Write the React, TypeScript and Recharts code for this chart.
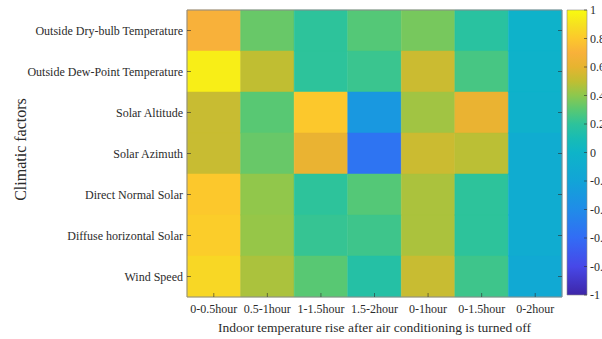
import React from 'react';
import { BarChart, Bar, XAxis, YAxis, Cell, Label } from 'recharts';

const factors = [
  'Outside Dry-bulb Temperature',
  'Outside Dew-Point Temperature',
  'Solar Altitude',
  'Solar Azimuth',
  'Direct Normal Solar',
  'Diffuse horizontal Solar',
  'Wind Speed',
];
const periods = ['0-0.5hour', '0.5-1hour', '1-1.5hour', '1.5-2hour', '0-1hour', '0-1.5hour', '0-2hour'];

// correlation coefficients, one list per climatic factor
const dryBulb = [0.7, 0.33, 0.2, 0.29, 0.36, 0.18, -0.02];
const dewPoint = [0.95, 0.5, 0.2, 0.23, 0.53, 0.26, -0.02];
const solarAltitude = [0.52, 0.3, 0.8, -0.3, 0.44, 0.62, -0.04];
const solarAzimuth = [0.52, 0.33, 0.62, -0.55, 0.53, 0.49, -0.1];
const directNormal = [0.8, 0.41, 0.2, 0.29, 0.46, 0.2, -0.1];
const diffuseHorizontal = [0.82, 0.42, 0.22, 0.24, 0.46, 0.2, -0.1];
const windSpeed = [0.86, 0.46, 0.3, 0.16, 0.52, 0.24, -0.14];

const colorLimits = [-1, 1];
const colorbarTicks = [-1, -0.8, -0.6, -0.4, -0.2, 0, 0.2, 0.4, 0.6, 0.8, 1];

const matrix = [dryBulb, dewPoint, solarAltitude, solarAzimuth, directNormal, diffuseHorizontal, windSpeed];

// parula-like colormap stops (value, rgb)
const parulaStops: [number, number[]][] = [
  [-1, [62, 38, 168]],
  [-0.8, [71, 72, 232]],
  [-0.6, [50, 108, 245]],
  [-0.4, [32, 140, 232]],
  [-0.2, [18, 164, 215]],
  [0, [14, 180, 200]],
  [0.1, [24, 188, 180]],
  [0.2, [45, 195, 155]],
  [0.3, [88, 200, 115]],
  [0.4, [140, 200, 78]],
  [0.5, [192, 190, 50]],
  [0.6, [230, 180, 48]],
  [0.7, [248, 177, 58]],
  [0.8, [252, 200, 44]],
  [0.9, [246, 225, 32]],
  [1, [249, 251, 14]],
];

function parula(v: number) {
  const x = Math.max(-1, Math.min(1, v));
  for (let i = 1; i < parulaStops.length; i++) {
    const [v1, c1] = parulaStops[i];
    const [v0, c0] = parulaStops[i - 1];
    if (x <= v1) {
      const f = (x - v0) / (v1 - v0);
      const c = c0.map((a, k) => Math.round(a + (c1[k] - a) * f));
      return `rgb(${c[0]},${c[1]},${c[2]})`;
    }
  }
  return 'rgb(249,251,14)';
}

const rows = factors.map((name) => {
  const r: any = { name };
  periods.forEach((_, j) => (r['p' + j] = 1));
  return r;
});
const colTicks = periods.map((_, j) => j + 0.5);

const FONT = '"Liberation Serif", "Times New Roman", serif';
const TEXT = '#2b2b2b';
const BOX = '#8a8a8a';

const BottomTick = (props: any) => {
  const { x, y, payload } = props;
  return (
    <g>
      <line x1={x} x2={x} y1={y - 12} y2={y - 16} stroke={TEXT} strokeWidth={0.6} />
      <text x={x} y={y} dy="0.35em" textAnchor="middle" fontSize={12} fontFamily={FONT} fill={TEXT}>
        {periods[Math.floor(payload.value)]}
      </text>
    </g>
  );
};

const TopTick = (props: any) => {
  const { x, y } = props;
  return <line x1={x} x2={x} y1={y} y2={y + 4} stroke={TEXT} strokeWidth={0.6} />;
};

const LeftTick = (props: any) => {
  const { x, y, payload } = props;
  return (
    <g>
      <line x1={x + 4} x2={x + 8} y1={y} y2={y} stroke={TEXT} strokeWidth={0.6} />
      <text x={x} y={y} dy="0.35em" textAnchor="end" fontSize={12} fontFamily={FONT} fill={TEXT}>
        {payload.value}
      </text>
    </g>
  );
};

const RightTick = (props: any) => {
  const { x, y } = props;
  return <line x1={x - 4} x2={x} y1={y} y2={y} stroke={TEXT} strokeWidth={0.6} />;
};

const ColorbarTick = (props: any) => {
  const { x, y, payload } = props;
  return (
    <g>
      <line x1={x - 6} x2={x - 3} y1={y} y2={y} stroke={TEXT} strokeWidth={0.6} />
      <text x={x} y={y} dy="0.35em" textAnchor="start" fontSize={12} fontFamily={FONT} fill={TEXT}>
        {payload.value}
      </text>
    </g>
  );
};

export default function App() {
  return (
    <div style={{ position: 'fixed', left: 0, top: 0, width: 602, height: 339, overflow: 'hidden', background: '#fff' }}>
      <svg width={0} height={0} style={{ position: 'absolute' }}>
        <defs>
          <linearGradient id="parulaGradient" x1="0" y1="1" x2="0" y2="0">
            {parulaStops.map(([v, c]) => (
              <stop
                key={v}
                offset={(v - colorLimits[0]) / (colorLimits[1] - colorLimits[0])}
                stopColor={`rgb(${c[0]},${c[1]},${c[2]})`}
              />
            ))}
          </linearGradient>
        </defs>
      </svg>

      <div style={{ position: 'absolute', left: 0, top: 0 }}>
        <BarChart
          width={602}
          height={339}
          data={rows}
          layout="vertical"
          margin={{ top: 9, right: 0, bottom: 0, left: 0 }}
          barCategoryGap={0}
          barGap={0}
        >
          <XAxis
            type="number"
            domain={[0, 7]}
            ticks={colTicks}
            height={42}
            tickSize={0}
            tickMargin={12}
            tick={BottomTick}
            axisLine={{ stroke: BOX }}
            interval={0}
          >
            <Label
              content={(p: any) => {
                const vb = p.viewBox;
                return (
                  <text
                    x={vb.x + vb.width / 2}
                    y={vb.y + 30}
                    dy="0.35em"
                    textAnchor="middle"
                    fontSize={13.5}
                    fontFamily={FONT}
                    fill={TEXT}
                  >
                    Indoor temperature rise after air conditioning is turned off
                  </text>
                );
              }}
            />
          </XAxis>
          <XAxis
            xAxisId="top"
            orientation="top"
            type="number"
            domain={[0, 7]}
            ticks={colTicks}
            height={1}
            tickSize={0}
            tickMargin={0}
            tick={TopTick}
            axisLine={{ stroke: BOX }}
            interval={0}
          />
          <YAxis
            type="category"
            dataKey="name"
            width={187}
            tickSize={0}
            tickMargin={4}
            tick={LeftTick}
            axisLine={{ stroke: BOX }}
            interval={0}
          >
            <Label
              content={(p: any) => {
                const vb = p.viewBox;
                const cx = vb.x + 20;
                const cy = vb.y + vb.height / 2 - 4;
                return (
                  <text
                    x={cx}
                    y={cy}
                    dy="0.35em"
                    transform={`rotate(-90 ${cx} ${cy})`}
                    textAnchor="middle"
                    fontSize={16}
                    fontFamily={FONT}
                    fill={TEXT}
                  >
                    Climatic factors
                  </text>
                );
              }}
            />
          </YAxis>
          <YAxis
            yAxisId="right"
            orientation="right"
            type="category"
            dataKey="name"
            width={40}
            tickSize={0}
            tickMargin={0}
            tick={RightTick}
            axisLine={{ stroke: BOX }}
            interval={0}
          />
          {periods.map((p, j) => (
            <Bar key={p} dataKey={'p' + j} stackId="cells" isAnimationActive={false}>
              {matrix.map((vals, i) => (
                <Cell key={i} fill={parula(vals[j])} stroke={parula(vals[j])} strokeWidth={0.5} />
              ))}
            </Bar>
          ))}
        </BarChart>
      </div>

      <div style={{ position: 'absolute', left: 560, top: 0 }}>
        <BarChart
          width={42}
          height={339}
          data={[{ name: 'colorbar', range: colorLimits }]}
          margin={{ top: 10, right: 0, bottom: 44, left: 7 }}
          barCategoryGap={0}
        >
          <XAxis dataKey="name" type="category" hide />
          <YAxis
            orientation="right"
            type="number"
            domain={colorLimits}
            ticks={colorbarTicks}
            width={15}
            tickSize={0}
            tickMargin={3}
            tick={ColorbarTick}
            axisLine={false}
            interval={0}
          />
          <Bar dataKey="range" fill="url(#parulaGradient)" stroke={BOX} strokeWidth={0.6} isAnimationActive={false} />
        </BarChart>
      </div>
    </div>
  );
}
